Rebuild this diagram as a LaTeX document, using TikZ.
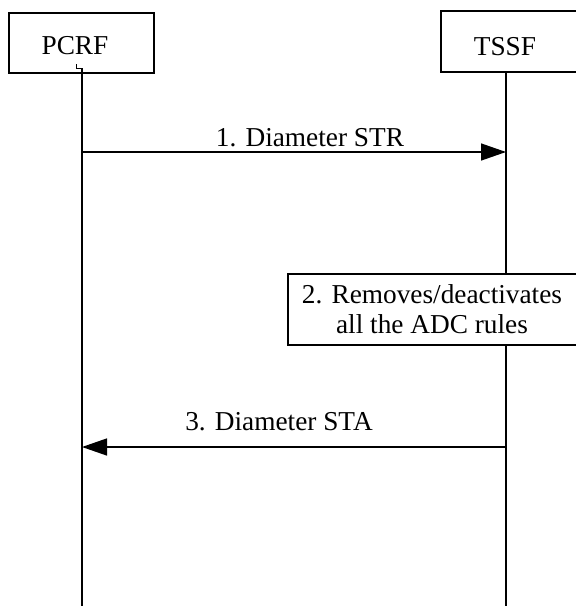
\documentclass[tikz,border=0pt]{standalone}
\usepackage{fontspec}
\setmainfont{Liberation Serif}
\usetikzlibrary{arrows.meta}
\begin{document}
\begin{tikzpicture}[x=1pt,y=-1pt,
  every node/.style={font=\fontsize{27.3}{30}\selectfont, inner sep=0pt},
  entity/.style={draw, line width=1.4pt, fill=white},
  life/.style={line width=1.4pt},
  msg/.style={line width=1.4pt, -{Triangle[length=25pt,width=17pt]}},
  lbl/.style={anchor=base}]
\useasboundingbox (0,0) rectangle (576,606);
\clip (0,0) rectangle (576,606);
% entity boxes
\node[entity, minimum width=145pt, minimum height=60pt] (pcrfbox) at (81.5,43) {};
\node (pcrf) at (75,46) {PCRF};
\node[entity, minimum width=150pt, minimum height=61pt] (tssfbox) at (516,41.5) {};
\node (tssf) at (505,47) {TSSF};
% lifelines
\coordinate (ptop) at (82,68);
\coordinate (pbot) at (82,606);
\coordinate (ttop) at (506,72);
\coordinate (tbot) at (506,606);
\draw[line width=0.8pt] (76,64) -- (76,68) -- (ptop);
\draw[life] (ptop) -- (pbot);
\draw[life] (ttop) -- (tbot);
% message 1
\coordinate (m1s) at (82,152);
\coordinate (m1e) at (506,152);
\draw[msg] (m1s) -- (m1e);
\node[lbl] (l1) at (310,146) {1. Diameter STR};
% box 2
\node[entity, minimum width=300pt, minimum height=71pt] (act) at (438,309.5) {};
\node[align=center] (acttext) at (432,309) {2. Removes/deactivates\\all the ADC rules};
% message 3
\coordinate (m3s) at (506,447);
\coordinate (m3e) at (82,447);
\draw[msg] (m3s) -- (m3e);
\node[lbl] (l3) at (279,430) {3. Diameter STA};
\end{tikzpicture}
\end{document}
